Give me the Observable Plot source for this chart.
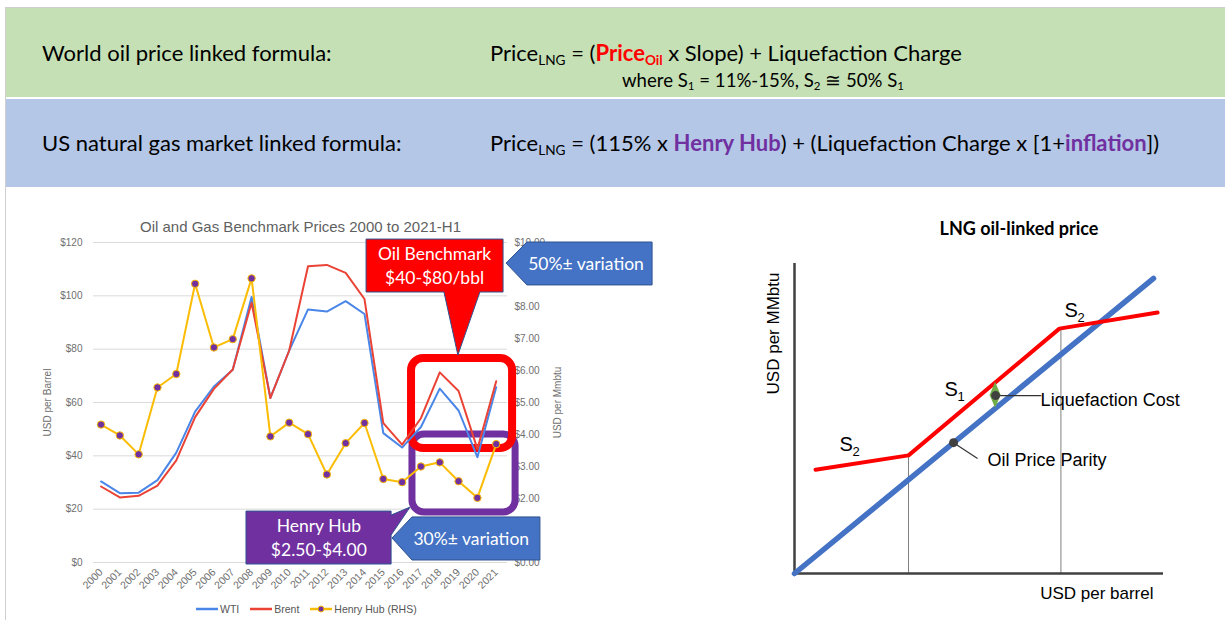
<!DOCTYPE html>
<html><head><meta charset="utf-8">
<script src="https://cdn.jsdelivr.net/npm/d3@7"></script>
<script src="https://cdn.jsdelivr.net/npm/@observablehq/plot@0.6"></script>
<style>
html,body{margin:0;padding:0;background:#fff;}
body{width:1225px;height:620px;position:relative;overflow:hidden;}
.abs{position:absolute;white-space:nowrap;}
.hdr{font-family:Lato,"Open Sans",sans-serif;color:#000;line-height:1;}
.hdr sub{font-size:0.62em;vertical-align:-0.3em;line-height:0;}
.red{color:#ff0000;font-weight:bold;}
.purple{color:#7030a0;font-weight:bold;}
.legend{font-family:"Liberation Sans",Arial,sans-serif;font-size:10.5px;color:#555;display:flex;align-items:center;}
.legend span.item{display:flex;align-items:center;margin-right:11px;}
.legend svg{margin-right:2px;}
</style></head><body>
<div class="abs" style="left:5px;top:7px;width:1px;height:613px;background:#cfcfcf"></div>
<div class="abs" style="left:5px;top:7px;width:1220px;height:1px;background:#cfcfcf"></div>
<div class="abs" style="left:6px;right:0;top:8px;height:89px;background:#c5e0b4"></div>
<div class="abs" style="left:6px;right:0;top:99px;height:88px;background:#b4c7e7"></div>
<div class="abs hdr" style="left:42px;top:42px;font-size:22px">World oil price linked formula:</div>
<div class="abs hdr" style="left:490px;top:42px;font-size:22px">Price<sub>LNG</sub> = (<span class="red">Price<sub>Oil</sub></span> x Slope) + Liquefaction Charge</div>
<div class="abs hdr" style="left:622px;top:71px;font-size:18.6px">where S<sub>1</sub> = 11%-15%, S<sub>2</sub> ≅ 50% S<sub>1</sub></div>
<div class="abs hdr" style="left:42px;top:132px;font-size:22px">US natural gas market linked formula:</div>
<div class="abs hdr" style="left:490px;top:132px;font-size:22px">Price<sub>LNG</sub> = (115% x <span class="purple">Henry Hub</span>) + (Liquefaction Charge x [1+<span class="purple">inflation</span>])</div>

<div id="left" class="abs" style="left:30px;top:200px;"></div>
<div id="legend" class="abs legend" style="left:196px;top:602px;height:14px;"></div>
<div id="right" class="abs" style="left:740px;top:200px;"></div>

<script>
// ---------- Left chart data ----------
const years = [2000, 2001, 2002, 2003, 2004, 2005, 2006, 2007, 2008, 2009, 2010,
               2011, 2012, 2013, 2014, 2015, 2016, 2017, 2018, 2019, 2020, 2021];
const wti = [30.4, 26.0, 26.2, 30.9, 41.2, 56.6, 66.0, 72.3, 99.6, 61.7, 79.5,
             94.9, 94.1, 98.0, 93.2, 48.5, 43.1, 50.8, 65.2, 57.0, 39.5, 65.7];
const brent = [28.5, 24.4, 25.0, 28.8, 38.3, 54.5, 65.1, 72.4, 97.4, 61.7, 79.5,
               111.1, 111.6, 108.6, 98.8, 52.3, 44.2, 54.1, 71.3, 64.3, 42.6, 68.0];
const henryHub = [4.31, 3.97, 3.38, 5.47, 5.89, 8.71, 6.72, 6.98, 8.88, 3.94, 4.37,
                  4.01, 2.75, 3.73, 4.36, 2.61, 2.51, 3.00, 3.13, 2.54, 2.02, 3.70];
const usdPerBarrelTicks = [0, 20, 40, 60, 80, 100, 120];
// right-axis labels that are visible ($1.00 and $9.00 sit hidden behind the callouts)
const usdPerMmbtuTicks = [0, 2, 3, 4, 5, 6, 7, 8, 10];
const seriesNames = ["WTI", "Brent", "Henry Hub (RHS)"];
const seriesColors = ["#4a86e8", "#ea4335", "#fbbc04"];
const leftTitle = "Oil and Gas Benchmark Prices 2000 to 2021-H1";
const RHS = 120 / 10; // $10.00/MMBtu on the right axis sits level with $120/bbl

// highlight boxes and callouts (in chart data space: year, $/bbl)
const highlightBoxes = [
  {x1: 2016.55, x2: 2022.03, y1: 18.75, y2: 48.0, color: "#7030a0", w: 7},
  {x1: 2016.5, x2: 2021.87, y1: 42.75, y2: 76.5, color: "#ff0000", w: 8}
];
const callouts = [
  {fill: "#ff0000", lines: ["Oil Benchmark", "$40-$80/bbl"],
   poly: [[2014.11,121.1],[2021.39,121.1],[2021.39,101.25],[2020.16,101.25],[2018.99,77.6],[2018.25,101.25],[2014.11,101.25]],
   tx: 2017.75, ty: 111.2},
  {fill: "#4472c4", lines: ["50%± variation"],
   poly: [[2021.55,112.1],[2022.66,120.0],[2029.31,120.0],[2029.31,103.9],[2022.66,103.9]],
   tx: 2025.8, ty: 112.1},
  {fill: "#4472c4", lines: ["30%± variation"],
   poly: [[2015.49,9.0],[2016.55,16.9],[2023.35,16.9],[2023.35,0.75],[2016.55,0.75]],
   tx: 2019.7, ty: 8.9},
  {fill: "#7030a0", lines: ["Henry Hub", "$2.50-$4.00"],
   poly: [[2007.73,19.1],[2015.44,19.1],[2015.44,17.6],[2016.45,20.6],[2015.44,10.1],[2015.44,-0.75],[2007.73,-0.75]],
   tx: 2011.6, ty: 9.2}
];

const oilRows = years.flatMap((yr, i) => [
  {year: yr, price: wti[i], series: seriesNames[0]},
  {year: yr, price: brent[i], series: seriesNames[1]}
]);
const gasRows = years.map((yr, i) => ({year: yr, price: henryHub[i]}));

function calloutMark(index, scales) {
  const sx = scales.x, sy = scales.y;
  const g = d3.create("svg:g");
  for (const c of callouts) {
    const pts = c.poly.map(([a, b]) => [sx(a), sy(b)]);
    g.append("path").attr("d", d3.line()(pts) + "Z")
      .attr("fill", c.fill).attr("stroke", "#2f528f").attr("stroke-width", 1);
    const cx = sx(c.tx), cy = sy(c.ty);
    const n = c.lines.length;
    c.lines.forEach((t, i) => {
      g.append("text").text(t)
        .attr("x", cx).attr("y", cy + (i - (n - 1) / 2) * 24)
        .attr("text-anchor", "middle").attr("dominant-baseline", "central")
        .attr("fill", "#fff").attr("font-family", "Lato, 'Open Sans', sans-serif")
        .attr("font-size", 17.5);
    });
  }
  return g.node();
}

const left = Plot.plot({
  width: 635, height: 420,
  marginLeft: 63, marginRight: 158, marginTop: 42, marginBottom: 58,
  style: {fontFamily: "'Liberation Sans', Arial, sans-serif", fontSize: "10px", color: "#6f6f6f", background: "transparent", overflow: "visible"},
  x: {domain: [1999.6, 2021.6]},
  y: {domain: [0, 120]},
  color: {domain: seriesNames, range: seriesColors},
  marks: [
    Plot.gridY(usdPerBarrelTicks, {stroke: "#dadada", strokeOpacity: 1}),
    Plot.axisY(usdPerBarrelTicks, {anchor: "left", tickSize: 0, tickPadding: 11,
      tickFormat: d => "$" + d, label: "USD per Barrel", labelAnchor: "center", labelArrow: "none", labelOffset: 50}),
    Plot.axisY(usdPerMmbtuTicks.map(v => v * RHS), {anchor: "right", tickSize: 0, tickPadding: 7,
      tickFormat: d => "$" + (d / RHS).toFixed(2), label: "USD per Mmbtu", labelAnchor: "center", labelArrow: "none", labelOffset: 53}),
    Plot.axisX(years, {tickSize: 0, tickPadding: 8, tickRotate: -45, fontSize: 10.5, tickFormat: d => String(d), label: null}),
    Plot.text([leftTitle], {frameAnchor: "top", dy: -21, fontSize: 15, fill: "#5f5f5f"}),
    Plot.rect(highlightBoxes, {x1: "x1", x2: "x2", y1: "y1", y2: "y2", rx: 12, fill: "none",
      stroke: d => d.color, strokeWidth: d => d.w}),
    Plot.line(oilRows, {x: "year", y: "price", z: "series", stroke: "series", strokeWidth: 2}),
    Plot.line(gasRows, {x: "year", y: d => d.price * RHS, stroke: seriesColors[2], strokeWidth: 2}),
    Plot.dot(gasRows, {x: "year", y: d => d.price * RHS, r: 3.7, fill: "#7030a0", stroke: seriesColors[2], strokeWidth: 1}),
    calloutMark
  ]
});
document.getElementById("left").appendChild(left);

// legend
const leg = d3.select("#legend");
seriesNames.forEach((name, i) => {
  const item = leg.append("span").attr("class", "item");
  const sw = item.append("svg").attr("width", 22).attr("height", 10);
  sw.append("line").attr("x1", 0).attr("x2", 22).attr("y1", 5).attr("y2", 5)
    .attr("stroke", seriesColors[i]).attr("stroke-width", 2.5);
  if (i === 2) sw.append("circle").attr("cx", 11).attr("cy", 5).attr("r", 3)
    .attr("fill", "#7030a0").attr("stroke", seriesColors[2]);
  item.append("span").text(name);
});

// ---------- Right chart (schematic) ----------
const rightTitle = "LNG oil-linked price";
const parityLine = [{oil: 0, lng: 0}, {oil: 97.3, lng: 95.2}];
const contractCurve = [{oil: 5.7, lng: 33.5}, {oil: 30.9, lng: 38.1}, {oil: 71.8, lng: 79.0}, {oil: 98.4, lng: 84.2}];
const kinks = [{oil: 30.9, lng: 38.1}, {oil: 72.2, lng: 79.3}];
const slopeLabels = [{oil: 12.2, lng: 41.6, sub: "2"}, {oil: 40.65, lng: 59.4, sub: "1"}, {oil: 73.2, lng: 84.8, sub: "2"}];
const liquefactionGap = [{oil: 53.0, low: 57.4, high: 57.4}, {oil: 54.5, low: 53.3, high: 61.7}, {oil: 56.0, low: 57.4, high: 57.4}];
const markerDots = [{oil: 54.5, lng: 57.4}, {oil: 43.1, lng: 42.2}];
const leaders = [{x1: 54.5, y1: 57.4, x2: 66.9, y2: 57.4}, {x1: 43.1, y1: 42.2, x2: 49.6, y2: 37.1}];
const callLabels = [{oil: 66.7, lng: 56.0, text: "Liquefaction Cost"}, {oil: 52.3, lng: 36.5, text: "Oil Price Parity"}];

const right = Plot.plot({
  width: 485, height: 420,
  marginLeft: 54, marginRight: 62, marginTop: 63, marginBottom: 47,
  style: {fontFamily: "'Liberation Sans', Arial, sans-serif", fontSize: "16px", color: "#000", background: "transparent", overflow: "visible"},
  x: {domain: [0, 100], axis: null},
  y: {domain: [0, 100], axis: null},
  marks: [
    Plot.ruleX(kinks, {x: "oil", y1: 0, y2: "lng", stroke: "#7f7f7f", strokeWidth: 1}),
    Plot.ruleX([0], {stroke: "#404040", strokeWidth: 2.5}),
    Plot.ruleY([0], {stroke: "#404040", strokeWidth: 2.5}),
    Plot.line(parityLine, {x: "oil", y: "lng", stroke: "#4472c4", strokeWidth: 5.5, strokeLinecap: "round"}),
    Plot.line(contractCurve, {x: "oil", y: "lng", stroke: "#ff0000", strokeWidth: 4, strokeLinecap: "round"}),
    Plot.areaY(liquefactionGap, {x: "oil", y1: "low", y2: "high", fill: "#70ad47"}),
    Plot.link(leaders, {x1: "x1", y1: "y1", x2: "x2", y2: "y2", stroke: "#333", strokeWidth: 1.2}),
    Plot.dot(markerDots, {x: "oil", y: "lng", r: 4.5, fill: "#404040"}),
    Plot.text(callLabels, {x: "oil", y: "lng", text: "text", textAnchor: "start", fontSize: 18}),
    Plot.text(slopeLabels, {x: "oil", y: "lng", text: () => "S", textAnchor: "start", fontSize: 20}),
    Plot.text(slopeLabels, {x: "oil", y: "lng", text: "sub", textAnchor: "start", fontSize: 13, dx: 13, dy: 7}),
    Plot.text([rightTitle], {frameAnchor: "top", dx: 40, dy: -41, fontSize: 18, fontWeight: "bold", fontFamily: "Lato, sans-serif"}),
    Plot.text(["USD per MMbtu"], {frameAnchor: "top-left", textAnchor: "middle", lineAnchor: "middle", dx: -21, dy: 70, rotate: -90, fontSize: 17}),
    Plot.text(["USD per barrel"], {frameAnchor: "bottom-right", textAnchor: "end", lineAnchor: "middle", dx: -10, dy: 20, fontSize: 17})
  ]
});
document.getElementById("right").appendChild(right);
</script>
</body></html>
